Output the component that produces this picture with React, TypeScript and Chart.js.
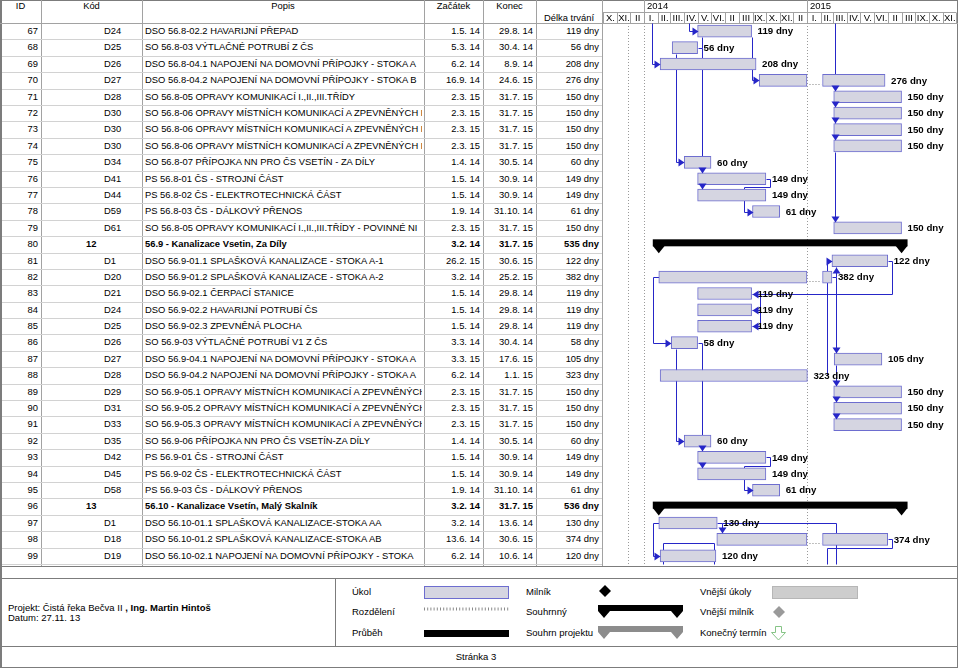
import React, { useEffect, useRef } from 'react';
import { Chart, registerables } from 'chart.js';

Chart.register(...registerables);

// ---------------- data ----------------
const ROW_IDS = [67, 68, 69, 70, 71, 72, 73, 74, 75, 76, 77, 78, 79, 80, 81, 82, 83, 84, 85, 86, 87, 88, 89, 90, 91, 92, 93, 94, 95, 96, 97, 98, 99];
const CODES = ['D24', 'D25', 'D26', 'D27', 'D28', 'D30', 'D30', 'D30', 'D34', 'D41', 'D44', 'D59', 'D61', '12', 'D1', 'D20', 'D21', 'D24', 'D25', 'D26', 'D27', 'D28', 'D29', 'D31', 'D33', 'D35', 'D42', 'D45', 'D58', '13', 'D1', 'D18', 'D19'];
const NAMES = [
  'DSO 56.8-02.2 HAVARIJNÍ PŘEPAD',
  'SO 56.8-03 VÝTLAČNÉ POTRUBÍ Z ČS',
  'DSO 56.8-04.1 NAPOJENÍ NA DOMOVNÍ PŘÍPOJKY - STOKA A',
  'DSO 56.8-04.2 NAPOJENÍ NA DOMOVNÍ PŘÍPOJKY - STOKA B',
  'SO 56.8-05 OPRAVY KOMUNIKACÍ I.,II.,III.TŘÍDY',
  'SO 56.8-06 OPRAVY MÍSTNÍCH KOMUNIKACÍ A ZPEVNĚNÝCH PLOCH',
  'SO 56.8-06 OPRAVY MÍSTNÍCH KOMUNIKACÍ A ZPEVNĚNÝCH PLOCH',
  'SO 56.8-06 OPRAVY MÍSTNÍCH KOMUNIKACÍ A ZPEVNĚNÝCH PLOCH',
  'SO 56.8-07 PŘÍPOJKA NN PRO ČS VSETÍN - ZA DÍLY',
  'PS 56.8-01 ČS - STROJNÍ ČÁST',
  'PS 56.8-02 ČS - ELEKTROTECHNICKÁ ČÁST',
  'PS 56.8-03 ČS - DÁLKOVÝ PŘENOS',
  'SO 56.8-05 OPRAVY KOMUNIKACÍ I.,II.,III.TŘÍDY - POVINNÉ NI',
  '56.9 - Kanalizace Vsetin, Za Díly',
  'DSO 56.9-01.1 SPLAŠKOVÁ KANALIZACE - STOKA A-1',
  'DSO 56.9-01.2 SPLAŠKOVÁ KANALIZACE - STOKA A-2',
  'DSO 56.9-02.1 ČERPACÍ STANICE',
  'DSO 56.9-02.2 HAVARIJNÍ POTRUBÍ ČS',
  'DSO 56.9-02.3 ZPEVNĚNÁ PLOCHA',
  'SO 56.9-03 VÝTLAČNÉ POTRUBÍ V1 Z ČS',
  'DSO 56.9-04.1 NAPOJENÍ NA DOMOVNÍ PŘÍPOJKY - STOKA A',
  'DSO 56.9-04.2 NAPOJENÍ NA DOMOVNÍ PŘÍPOJKY - STOKA A',
  'SO 56.9-05.1 OPRAVY MÍSTNÍCH KOMUNIKACÍ A ZPEVNĚNÝCH',
  'SO 56.9-05.2 OPRAVY MÍSTNÍCH KOMUNIKACÍ A ZPEVNĚNÝCH',
  'SO 56.9-05.3 OPRAVY MÍSTNÍCH KOMUNIKACÍ A ZPEVNĚNÝCH',
  'SO 56.9-06 PŘÍPOJKA NN PRO ČS VSETÍN-ZA DÍLY',
  'PS 56.9-01 ČS - STROJNÍ ČÁST',
  'PS 56.9-02 ČS - ELEKTROTECHNICKÁ ČÁST',
  'PS 56.9-03 ČS - DÁLKOVÝ PŘENOS',
  '56.10 - Kanalizace Vsetín, Malý Skalník',
  'DSO 56.10-01.1 SPLAŠKOVÁ KANALIZACE-STOKA AA',
  'DSO 56.10-01.2 SPLAŠKOVÁ KANALIZACE-STOKA AB',
  'DSO 56.10-02.1 NAPOJENÍ NA DOMOVNÍ PŘÍPOJKY - STOKA',
];
const STARTS = ['1.5. 14', '5.3. 14', '6.2. 14', '16.9. 14', '2.3. 15', '2.3. 15', '2.3. 15', '2.3. 15', '1.4. 14', '1.5. 14', '1.5. 14', '1.9. 14', '2.3. 15', '3.2. 14', '26.2. 15', '3.2. 14', '1.5. 14', '1.5. 14', '1.5. 14', '3.3. 14', '3.3. 15', '6.2. 14', '2.3. 15', '2.3. 15', '2.3. 15', '1.4. 14', '1.5. 14', '1.5. 14', '1.9. 14', '3.2. 14', '3.2. 14', '13.6. 14', '6.2. 14'];
const ENDS = ['29.8. 14', '30.4. 14', '8.9. 14', '24.6. 15', '31.7. 15', '31.7. 15', '31.7. 15', '31.7. 15', '30.5. 14', '30.9. 14', '30.9. 14', '31.10. 14', '31.7. 15', '31.7. 15', '30.6. 15', '25.2. 15', '29.8. 14', '29.8. 14', '29.8. 14', '30.4. 14', '17.6. 15', '1.1. 15', '31.7. 15', '31.7. 15', '31.7. 15', '30.5. 14', '30.9. 14', '30.9. 14', '31.10. 14', '31.7. 15', '13.6. 14', '30.6. 15', '10.6. 14'];
const DURATIONS = ['119 dny', '56 dny', '208 dny', '276 dny', '150 dny', '150 dny', '150 dny', '150 dny', '60 dny', '149 dny', '149 dny', '61 dny', '150 dny', '535 dny', '122 dny', '382 dny', '119 dny', '119 dny', '119 dny', '58 dny', '105 dny', '323 dny', '150 dny', '150 dny', '150 dny', '60 dny', '149 dny', '149 dny', '61 dny', '536 dny', '130 dny', '374 dny', '120 dny'];
const SUMMARY_IDS = [80, 96];
const SPLIT_IDS = [70, 82, 98];
const SPLIT_PAUSE = ['31.12. 14', '31.12. 14', '31.12. 14'];
const SPLIT_RESUME = ['5.2. 15', '5.2. 15', '5.2. 15'];

const TIMELINE_START = '1.10. 13';
const TIMELINE_END = '1.12. 15';
const STATUS_DATE = '27.11. 13';
const YEAR_STARTS = ['1.1. 14', '1.1. 15'];
const YEAR_LABELS = ['2014', '2015'];
const MONTH_LABELS = ['X.', 'XI.', 'II', 'I.', 'II.', 'III.', 'IV.', 'V.', 'VI.', 'II', 'III', 'IX.', 'X.', 'XI.', 'II', 'I.', 'II.', 'III.', 'IV.', 'V.', 'VI.', 'II', 'III', 'IX.', 'X.', 'XI.'];

// dependency lines: points as [date, row position]
const EDGE = 0.37;
const LINKS: { path: [string, number][]; arrow?: string }[] = [
  { path: [['19.1.14', 66.5], ['19.1.14', 69], ['6.2.14', 69]], arrow: 'r' },
  { path: [['12.4.14', 66.5], ['12.4.14', 67], ['1.5.14', 67]], arrow: 'r' },
  { path: [['14.3.14', 68 + EDGE], ['14.3.14', 75], ['1.4.14', 75]], arrow: 'r' },
  { path: [['11.5.14', 67 + EDGE], ['11.5.14', 68]] },
  { path: [['1.5.14', 68], ['11.5.14', 68], ['11.5.14', 76 - EDGE]], arrow: 'd' },
  { path: [['11.5.14', 76 + EDGE], ['11.5.14', 77 - EDGE]], arrow: 'd' },
  { path: [['30.8.14', 67 + EDGE], ['30.8.14', 70], ['16.9.14', 70]], arrow: 'r' },
  { path: [['4.3.15', 66.5], ['4.3.15', 71 - EDGE]], arrow: 'd' },
  { path: [['4.3.15', 71 + EDGE], ['4.3.15', 72 - EDGE]], arrow: 'd' },
  { path: [['4.3.15', 72 + EDGE], ['4.3.15', 73 - EDGE]], arrow: 'd' },
  { path: [['4.3.15', 73 + EDGE], ['4.3.15', 74 - EDGE]], arrow: 'd' },
  { path: [['4.3.15', 74 + EDGE], ['4.3.15', 79 - EDGE]], arrow: 'd' },
  { path: [['1.10.14', 76], ['11.10.14', 76], ['11.10.14', 76.5], ['13.8.14', 76.5], ['13.8.14', 78], ['1.9.14', 78]], arrow: 'r' },
  { path: [['26.2.15', 82], ['8.3.15', 82], ['8.3.15', 81 + EDGE]], arrow: 'u' },
  { path: [['8.3.15', 82], ['8.3.15', 87 - EDGE]], arrow: 'd' },
  { path: [['8.3.15', 87 + EDGE], ['8.3.15', 89 - EDGE]], arrow: 'd' },
  { path: [['8.3.15', 89 + EDGE], ['8.3.15', 90 - EDGE]], arrow: 'd' },
  { path: [['8.3.15', 90 + EDGE], ['8.3.15', 91 - EDGE]], arrow: 'd' },
  { path: [['14.2.15', 88], ['14.2.15', 81], ['26.2.15', 81]], arrow: 'r' },
  { path: [['1.7.15', 81], ['11.7.15', 81], ['11.7.15', 83], ['30.8.14', 83]], arrow: 'l' },
  { path: [['18.9.14', 83], ['18.9.14', 85]] },
  { path: [['18.9.14', 84], ['30.8.14', 84]], arrow: 'l' },
  { path: [['18.9.14', 85], ['30.8.14', 85]], arrow: 'l' },
  { path: [['3.2.14', 82], ['21.1.14', 82], ['21.1.14', 86], ['3.3.14', 86]], arrow: 'r' },
  { path: [['14.3.14', 86 + EDGE], ['14.3.14', 92], ['1.4.14', 92]], arrow: 'r' },
  { path: [['1.5.14', 86], ['11.5.14', 86], ['11.5.14', 93 - EDGE]], arrow: 'd' },
  { path: [['11.5.14', 93 + EDGE], ['11.5.14', 94 - EDGE]], arrow: 'd' },
  { path: [['1.10.14', 93], ['11.10.14', 93], ['11.10.14', 93.5], ['13.8.14', 93.5], ['13.8.14', 95], ['1.9.14', 95]], arrow: 'r' },
  { path: [['3.2.14', 97], ['21.1.14', 97], ['21.1.14', 99], ['6.2.14', 99]], arrow: 'r' },
  { path: [['14.6.14', 97], ['25.6.14', 97], ['25.6.14', 98 - EDGE]], arrow: 'd' },
  { path: [['25.6.14', 97], ['6.3.15', 97], ['6.3.15', 99.5]] },
  { path: [['1.7.15', 98], ['11.7.15', 98], ['11.7.15', 98.5], ['14.2.15', 98.5], ['14.2.15', 99.5]] },
  { path: [['12.2.14', 99.5], ['12.2.14', 98.2], ['7.6.14', 98.2], ['7.6.14', 99.5]] },
];

// ---------------- helpers ----------------
const DAY = 86400000;
const ORIGIN = Date.UTC(2013, 9, 1);
function dayOf(s: string): number {
  const [d, m, y] = s.replace(/\s/g, '').split('.').filter(Boolean).map(Number);
  return (Date.UTC(2000 + y, m - 1, d) - ORIGIN) / DAY;
}
const MONTH_STARTS = Array.from({ length: MONTH_LABELS.length + 1 }, (_, k) => (Date.UTC(2013, 9 + k, 1) - ORIGIN) / DAY);

const isSummary = (id: number) => SUMMARY_IDS.includes(id);
const splitIdx = (id: number) => SPLIT_IDS.indexOf(id);

const FONT = '"Liberation Sans", Arial, Helvetica, sans-serif';
const TASK_FILL = '#d5d5e1';
const TASK_BORDER = '#6d6dcf';
const LINK_COLOR = '#2626c8';
const GRID = '#a2a2a2';
const ROWLINE = '#d2d2d2';
const BORDER = '#7c7c7c';

const HEADER_H = 23;
const ROWS_BOTTOM = 564;
const ROW_H = (ROWS_BOTTOM - HEADER_H) / ROW_IDS.length;

const seg1 = ROW_IDS.map((id, i) => {
  if (isSummary(id)) return null;
  const k = splitIdx(id);
  const end = k >= 0 ? dayOf(SPLIT_PAUSE[k]) + 1 : dayOf(ENDS[i]) + 1;
  return [dayOf(STARTS[i]), end];
});
const seg2 = ROW_IDS.map((id, i) => {
  const k = splitIdx(id);
  return k >= 0 ? [dayOf(SPLIT_RESUME[k]), dayOf(ENDS[i]) + 1] : null;
});
const summaryData = ROW_IDS.map((id, i) => (isSummary(id) ? [dayOf(STARTS[i]), dayOf(ENDS[i]) + 1] : null));

const ganttPlugin = {
  id: 'ganttDecor',
  beforeDatasetsDraw(chart: any) {
    const { ctx, chartArea: a, scales } = chart;
    const X = (d: string) => scales.x.getPixelForValue(dayOf(d));
    const Y = (r: number) => scales.y.getPixelForValue(r - ROW_IDS[0]);
    ctx.save();
    ctx.lineWidth = 1;
    ctx.strokeStyle = '#9a9a9a';
    ctx.setLineDash([1, 2]);
    [STATUS_DATE, ...YEAR_STARTS].forEach((d) => {
      const x = Math.round(X(d)) + 0.5;
      ctx.beginPath();
      ctx.moveTo(x, a.top);
      ctx.lineTo(x, a.bottom);
      ctx.stroke();
    });
    ctx.setLineDash([]);
    ctx.strokeStyle = LINK_COLOR;
    LINKS.forEach((l) => {
      ctx.beginPath();
      l.path.forEach(([d, r], k) => {
        const x = Math.round(X(d)) + 0.5;
        const y = Math.round(Y(r)) + 0.5;
        if (k) ctx.lineTo(x, y);
        else ctx.moveTo(x, y);
      });
      ctx.stroke();
    });
    ctx.restore();
  },
  afterDatasetsDraw(chart: any) {
    const { ctx, scales } = chart;
    const X = (d: string) => scales.x.getPixelForValue(dayOf(d));
    const Xv = (v: number) => scales.x.getPixelForValue(v);
    const Y = (r: number) => scales.y.getPixelForValue(r - ROW_IDS[0]);
    ctx.save();
    // summary bars with caps
    const meta = chart.getDatasetMeta(2);
    ROW_IDS.forEach((id, i) => {
      if (!isSummary(id)) return;
      const el = meta.data[i];
      const { x, y, base, height } = el.getProps(['x', 'y', 'base', 'height'], true);
      const t = y - height / 2 - 1.5;
      const b = t + height;
      ctx.fillStyle = '#000';
      ctx.fillRect(base - 6, t, x - base + 12, height);
      [base, x].forEach((cx: number) => {
        ctx.beginPath();
        ctx.moveTo(cx - 6, b - 0.5);
        ctx.lineTo(cx + 6, b - 0.5);
        ctx.lineTo(cx, b + 7);
        ctx.closePath();
        ctx.fill();
      });
    });
    // split dots
    ctx.strokeStyle = '#808080';
    ctx.setLineDash([1, 2]);
    SPLIT_IDS.forEach((id, k) => {
      const y = Math.round(Y(id)) + 4.5;
      ctx.beginPath();
      ctx.moveTo(X(SPLIT_PAUSE[k]) + 3, y);
      ctx.lineTo(X(SPLIT_RESUME[k]) - 1, y);
      ctx.stroke();
    });
    ctx.setLineDash([]);
    // duration labels
    ctx.fillStyle = '#000';
    ctx.font = `bold 9.7px ${FONT}`;
    ctx.textBaseline = 'middle';
    ctx.textAlign = 'left';
    ROW_IDS.forEach((id, i) => {
      if (isSummary(id)) return;
      ctx.fillText(DURATIONS[i], Xv(dayOf(ENDS[i]) + 1) + 6, Y(id) + 0.5);
    });
    // arrow heads
    ctx.fillStyle = LINK_COLOR;
    LINKS.forEach((l) => {
      if (!l.arrow) return;
      const [d, r] = l.path[l.path.length - 1];
      const x = Math.round(X(d)) + 0.5;
      const y = Math.round(Y(r)) + 0.5;
      const L = 6, W = 4;
      ctx.beginPath();
      if (l.arrow === 'r') { ctx.moveTo(x, y); ctx.lineTo(x - L, y - W); ctx.lineTo(x - L, y + W); }
      if (l.arrow === 'l') { ctx.moveTo(x, y); ctx.lineTo(x + L, y - W); ctx.lineTo(x + L, y + W); }
      if (l.arrow === 'd') { ctx.moveTo(x, y); ctx.lineTo(x - W, y - L); ctx.lineTo(x + W, y - L); }
      if (l.arrow === 'u') { ctx.moveTo(x, y); ctx.lineTo(x - W, y + L); ctx.lineTo(x + W, y + L); }
      ctx.closePath();
      ctx.fill();
    });
    ctx.restore();
  },
  afterDraw(chart: any) {
    const { ctx, chartArea: a, scales } = chart;
    const Xv = (v: number) => scales.x.getPixelForValue(v);
    const hb = a.top;
    ctx.save();
    ctx.strokeStyle = GRID;
    ctx.lineWidth = 1;
    ctx.beginPath();
    ctx.moveTo(a.left, 12.5);
    ctx.lineTo(a.right, 12.5);
    MONTH_STARTS.forEach((v) => {
      const x = Math.round(Xv(v)) + 0.5;
      ctx.moveTo(x, 12.5);
      ctx.lineTo(x, hb);
    });
    YEAR_STARTS.forEach((s) => {
      const x = Math.round(Xv(dayOf(s))) + 0.5;
      ctx.moveTo(x, 0);
      ctx.lineTo(x, 12.5);
    });
    ctx.stroke();
    ctx.fillStyle = '#000';
    ctx.font = `9.5px ${FONT}`;
    ctx.textBaseline = 'middle';
    ctx.textAlign = 'center';
    MONTH_LABELS.forEach((lab, k) => {
      ctx.fillText(lab, (Xv(MONTH_STARTS[k]) + Xv(MONTH_STARTS[k + 1])) / 2 + 0.5, 18.5);
    });
    ctx.textAlign = 'left';
    YEAR_LABELS.forEach((lab, k) => ctx.fillText(lab, Xv(dayOf(YEAR_STARTS[k])) + 3, 6.5));
    ctx.restore();
  },
};

// ---------------- small layout helpers ----------------
const H = ({ x, y, w, c = GRID, t = 1 }: any) => (
  <div style={{ position: 'absolute', left: x, top: y, width: w, height: t, background: c }} />
);
const V = ({ x, y, h, c = GRID, t = 1 }: any) => (
  <div style={{ position: 'absolute', left: x, top: y, width: t, height: h, background: c }} />
);
const Txt = ({ x, y, w, h, align = 'left', bold = false, size = 9.4, clip = false, children }: any) => (
  <div
    style={{
      position: 'absolute', left: x, top: y, width: w, height: h, lineHeight: `${h}px`,
      textAlign: align, fontWeight: bold ? 'bold' : 'normal', fontSize: size,
      whiteSpace: 'nowrap', overflow: clip ? 'hidden' : 'visible',
    }}
  >
    {children}
  </div>
);

const COL_X = [41, 142, 424, 483, 536, 602];

export default function App() {
  const ref = useRef<HTMLCanvasElement>(null);
  useEffect(() => {
    const chart = new Chart(ref.current as HTMLCanvasElement, {
      type: 'bar',
      data: {
        labels: ROW_IDS.map(String),
        datasets: [
          { label: 'Úkol', data: seg1 as any, backgroundColor: TASK_FILL, borderColor: TASK_BORDER, borderWidth: 1, borderSkipped: false, barThickness: 12, grouped: false } as any,
          { label: 'Rozdělení', data: seg2 as any, backgroundColor: TASK_FILL, borderColor: TASK_BORDER, borderWidth: 1, borderSkipped: false, barThickness: 12, grouped: false } as any,
          { label: 'Souhrnný', data: summaryData as any, backgroundColor: 'rgba(0,0,0,0)', borderWidth: 0, barThickness: 7, grouped: false } as any,
        ],
      },
      options: {
        indexAxis: 'y',
        animation: false,
        responsive: false,
        events: [],
        layout: { padding: { left: 1, right: 2, top: HEADER_H, bottom: 567 - ROWS_BOTTOM } },
        scales: {
          x: { type: 'linear', min: dayOf(TIMELINE_START), max: dayOf(TIMELINE_END), display: false },
          y: { type: 'category', display: false, offset: true },
        },
        plugins: { legend: { display: false }, tooltip: { enabled: false } },
      },
      plugins: [ganttPlugin],
    });
    return () => chart.destroy();
  }, []);

  const rowTop = (i: number) => HEADER_H + i * ROW_H;

  return (
    <div style={{ position: 'relative', width: 960, height: 669, background: '#fff', fontFamily: FONT, fontSize: 9.4, color: '#000', overflow: 'hidden' }}>
      <style>{'body{margin:0}'}</style>
      {/* outer frame */}
      <H x={0} y={0} w={958} c={BORDER} />
      <V x={0} y={0} h={668} c={BORDER} t={2} />
      <V x={957} y={0} h={668} c={BORDER} />
      <H x={0} y={HEADER_H} w={958} c={GRID} />
      <H x={0} y={566} w={958} c={BORDER} />
      {/* column lines */}
      {COL_X.map((x) => (
        <V key={x} x={x} y={0} h={566} c={GRID} />
      ))}
      {/* row lines */}
      {ROW_IDS.map((id, i) => (
        <H key={'r' + id} x={2} y={Math.round(rowTop(i + 1))} w={600} c={ROWLINE} />
      ))}
      {/* header */}
      <Txt x={0} y={0} w={41} h={12} align="center">ID</Txt>
      <Txt x={41} y={0} w={101} h={12} align="center">Kód</Txt>
      <Txt x={142} y={0} w={282} h={12} align="center">Popis</Txt>
      <Txt x={424} y={0} w={59} h={12} align="center">Začátek</Txt>
      <Txt x={483} y={0} w={53} h={12} align="center">Konec</Txt>
      <Txt x={536} y={12} w={66} h={12} align="center">Délka trvání</Txt>
      {/* table rows */}
      {ROW_IDS.map((id, i) => {
        const sum = isSummary(id);
        const y = rowTop(i);
        return (
          <React.Fragment key={id}>
            <Txt x={0} y={y} w={38} h={ROW_H} align="right">{id}</Txt>
            <Txt x={sum ? 86 : 104} y={y} w={36} h={ROW_H} bold={sum}>{CODES[i]}</Txt>
            <Txt x={145} y={y} w={277} h={ROW_H} bold={sum} clip>{NAMES[i]}</Txt>
            <Txt x={424} y={y} w={56} h={ROW_H} align="right" bold={sum}>{STARTS[i]}</Txt>
            <Txt x={483} y={y} w={50} h={ROW_H} align="right" bold={sum}>{ENDS[i]}</Txt>
            <Txt x={536} y={y} w={63} h={ROW_H} align="right" bold={sum}>{DURATIONS[i]}</Txt>
          </React.Fragment>
        );
      })}
      <canvas ref={ref} width={356} height={567} style={{ position: 'absolute', left: 602, top: 0, display: 'block' }} />
      {/* footer */}
      <H x={0} y={578} w={958} c={BORDER} />
      <H x={0} y={646} w={958} c={BORDER} />
      <H x={0} y={667} w={958} c={BORDER} />
      <V x={335} y={578} h={68} c={BORDER} />
      <div style={{ position: 'absolute', left: 8, top: 603, fontSize: 9.5, lineHeight: '10px', whiteSpace: 'nowrap' }}>
        Projekt: Čistá řeka Bečva II <b>, Ing. Martin Hintoš</b>
        <br />
        Datum: 27.11. 13
      </div>
      <Txt x={352} y={585} w={70} h={14} size={9.5}>Úkol</Txt>
      <Txt x={352} y={605} w={70} h={14} size={9.5}>Rozdělení</Txt>
      <Txt x={352} y={626} w={70} h={14} size={9.5}>Průběh</Txt>
      <Txt x={526} y={585} w={70} h={14} size={9.5}>Milník</Txt>
      <Txt x={526} y={605} w={70} h={14} size={9.5}>Souhrnný</Txt>
      <Txt x={526} y={626} w={70} h={14} size={9.5}>Souhrn projektu</Txt>
      <Txt x={700} y={585} w={70} h={14} size={9.5}>Vnější úkoly</Txt>
      <Txt x={700} y={605} w={70} h={14} size={9.5}>Vnější milník</Txt>
      <Txt x={700} y={626} w={70} h={14} size={9.5}>Konečný termín</Txt>
      <Txt x={400} y={650} w={152} h={14} size={9.5} align="center">Stránka 3</Txt>
      <svg width={960} height={669} style={{ position: 'absolute', left: 0, top: 0, pointerEvents: 'none' }}>
        <rect x={424.5} y={586.5} width={84} height={12} fill={TASK_FILL} stroke={TASK_BORDER} />
        <line x1={424} x2={509} y1={609} y2={609} stroke="#8a8a8a" strokeWidth={3} strokeDasharray="1 2.2" />
        <rect x={424} y={630} width={85} height={7} fill="#000" />
        <path d="M605,585 L611,591 L605,597 L599,591 Z" fill="#000" />
        <path d="M598,605 H683 V611 L677,618 L671,611 H610 L604,618 L598,611 Z" fill="#000" />
        <path d="M598,626 H683 V632 L677,639 L671,632 H610 L604,639 L598,632 Z" fill="#8c8c8c" />
        <rect x={772.5} y={586.5} width={85} height={12} fill="#cdcdcd" stroke="#b6b6b6" />
        <path d="M779,606 L785,612 L779,618 L773,612 Z" fill="#9a9a9a" />
        <path d="M775.5,626.5 H781.5 V632.5 H785.5 L778.5,640 L771.5,632.5 H775.5 Z" fill="#fff" stroke="#86c486" />
      </svg>
    </div>
  );
}
